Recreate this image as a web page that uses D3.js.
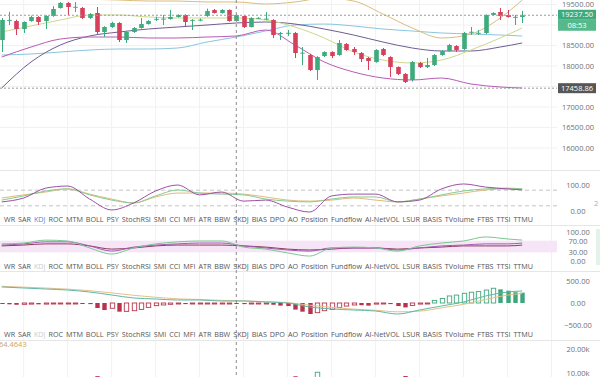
<!DOCTYPE html>
<html>
<head>
<meta charset="utf-8">
<script src="https://cdn.jsdelivr.net/npm/d3@7"></script>
<style>
body { margin: 0; background: #fff; overflow: hidden; }
svg { display: block; font-family: "Open Sans", sans-serif; }
</style>
</head>
<body>
<div id="wrapper"></div>
<script>
// candles: [open, high, low, close]
const candles = [
    [18634, 19170, 18341, 19122], [19110, 19320, 19000, 19125], [19097, 19130, 18756, 18902], [18902, 19090, 18805, 19073],
    [19097, 19230, 19080, 19195], [19195, 19215, 19000, 19073], [19097, 19240, 18902, 19219], [19219, 19460, 19200, 19390],
    [19415, 19560, 19400, 19537], [19537, 19560, 19244, 19439], [19430, 19560, 19317, 19445], [19415, 19440, 19150, 19171],
    [19171, 19290, 19150, 19268], [19293, 19439, 18756, 18829], [18829, 18970, 18710, 18951], [18951, 19080, 18930, 19049],
    [19049, 19070, 18585, 18634], [18634, 18850, 18561, 18829], [18829, 18950, 18810, 18927], [18927, 19171, 18910, 19024],
    [19024, 19120, 19010, 19097], [19140, 19200, 19100, 19150], [19146, 19244, 19000, 19155], [19146, 19366, 19130, 19195],
    [19195, 19260, 19180, 19244], [19244, 19260, 18951, 19073], [19118, 19140, 18878, 19125], [19122, 19160, 19090, 19130],
    [19219, 19400, 19200, 19341], [19366, 19390, 19280, 19293], [19293, 19390, 19280, 19366], [19366, 19380, 19080, 19097],
    [19097, 19260, 19080, 19244], [19219, 19240, 18927, 18951], [18951, 19190, 18940, 19171], [19170, 19190, 19150, 19175],
    [19150, 19317, 19120, 19155], [19122, 19140, 18683, 18756], [18780, 18830, 18634, 18805], [18805, 18878, 18730, 18810],
    [18805, 18830, 18195, 18317], [18317, 18463, 18024, 18325], [18268, 18300, 17880, 17902], [17902, 18240, 17658, 18219],
    [18243, 18360, 18220, 18341], [18341, 18360, 18195, 18243], [18268, 18634, 18250, 18561], [18536, 18560, 18370, 18390],
    [18414, 18463, 18268, 18341], [18317, 18340, 18097, 18170], [18195, 18220, 17902, 18121], [18097, 18410, 18080, 18390],
    [18414, 18440, 18240, 18268], [18219, 18240, 17731, 17975], [17975, 17990, 17780, 17805], [17805, 17830, 17585, 17609],
    [17658, 18120, 17620, 18097], [18073, 18100, 17950, 17975], [17975, 18195, 17950, 18024], [18024, 18290, 18000, 18268],
    [18268, 18390, 18250, 18365], [18365, 18540, 18350, 18512], [18487, 18510, 18341, 18390], [18414, 18830, 18390, 18805],
    [18825, 18951, 18756, 18835], [18805, 18878, 18756, 18810], [18805, 19260, 18780, 19244], [19244, 19310, 19220, 19293],
    [19317, 19415, 19122, 19219], [19244, 19366, 19180, 19195], [19195, 19244, 19000, 19200], [19195, 19341, 19049, 19237.5]
];

// overlay lines on the price pane, sampled at these candle indexes
const lineIdx = [0, 4, 8, 12, 16, 20, 24, 28, 32, 36, 40, 44, 48, 52, 56, 60, 64, 68, 71];
const bollUpper = [19902, 19805, 19707, 19634, 19610, 19585, 19585, 19561, 19561, 19512, 19561, 19659, 19585, 19268, 18927, 18683, 18780, 19171, 19610];
const bollMid = [18829, 18976, 19122, 19244, 19244, 19195, 19171, 19171, 19171, 19122, 18951, 18683, 18341, 18146, 18073, 18146, 18390, 18683, 18927];
const bollLower = [18219, 18463, 18658, 18707, 18707, 18683, 18683, 18707, 18732, 18878, 18512, 18098, 17854, 17707, 17659, 17707, 17561, 17488, 17463];
const maBlue = [18268, 18293, 18341, 18390, 18415, 18415, 18439, 18585, 18707, 18854, 19000, 19024, 18976, 18902, 18854, 18805, 18780, 18756, 18732];
const maDark = [17463, 18098, 18512, 18732, 18829, 18902, 18951, 19000, 19049, 19073, 19024, 18902, 18756, 18585, 18439, 18366, 18366, 18463, 18561];

// oscillators, sampled at these candle indexes
const oscIdx = [0, 3, 6, 9, 12, 15, 18, 21, 24, 27, 30, 33, 36, 39, 42, 45, 48, 51, 54, 57, 60, 63, 66, 69, 71];
const kdjJ = [35, 50, 88, 96, 46, 4, 31, 77, 100, 62, 73, 38, 42, 15, -4, 58, 65, 65, 35, 42, 85, 104, 92, 85, 81];
const kdjK = [42, 58, 77, 85, 62, 42, 31, 58, 81, 69, 65, 62, 46, 38, 35, 46, 54, 54, 35, 46, 62, 77, 85, 88, 85];
const kdjD = [50, 62, 73, 85, 65, 46, 31, 54, 69, 69, 69, 65, 54, 42, 38, 42, 50, 42, 35, 46, 58, 69, 81, 85, 85];
const rsi6 = [59, 62, 72, 69, 45, 24, 45, 59, 66, 69, 69, 48, 41, 28, 17, 45, 48, 45, 34, 52, 62, 69, 83, 76, 72];
const rsi12 = [55, 59, 66, 66, 52, 34, 48, 55, 59, 62, 62, 52, 45, 38, 34, 45, 45, 45, 38, 45, 52, 55, 59, 59, 62];
const rsi24 = [52, 55, 59, 59, 52, 41, 45, 52, 55, 55, 55, 52, 48, 41, 38, 41, 45, 45, 41, 45, 48, 52, 52, 52, 55];
const macdDif = [364, 341, 318, 295, 250, 182, 114, 91, 68, 68, 45, 45, 23, 0, -91, -136, -159, -182, -250, -159, -68, 23, 159, 250, 273];
const macdDea = [380, 360, 340, 315, 280, 230, 175, 130, 95, 80, 60, 50, 30, 10, -50, -100, -140, -165, -200, -185, -110, -30, 80, 180, 215];

// one value per candle
const macdHist = [-20, -30, -40, -30, -25, -30, -25, -15, -10, -8, -5, -15, -25, -114, -160, -120, -197, -190, -175, -145,
    -100, -60, -45, -30, -20, -25, -20, -15, -10, -8, -5, -3, -5, -25, -20, -15, -12, -40, -60, -70,
    -150, -197, -250, -220, -175, -145, -100, -70, -45, -50, -60, -25, -20, -25, -70, -100, -55, -25, -10, 60,
    105, 160, 180, 220, 245, 260, 295, 335, 310, 280, 245, 235];
const volume = [6200, 4100, 5300, 4600, 3900, 4200, 4800, 5600, 6100, 5200, 4700, 5000, 4400, 8700, 6300, 4500, 7400, 5100, 4200, 4600,
    3800, 3500, 3300, 4000, 3700, 4800, 4100, 3600, 3900, 4500, 3800, 3600, 4900, 5400, 4700, 3900, 4200, 6800, 5200, 3900,
    8650, 6100, 7300, 10300, 5600, 4900, 6200, 5300, 4800, 5700, 5900, 6400, 4700, 6600, 7800, 8750, 7600, 5400, 4600, 5300,
    4700, 5100, 4900, 7100, 5200, 4400, 7700, 5600, 6200, 5100, 4300, 3900];

const tabs = ["WR", "SAR", "KDJ", "ROC", "MTM", "BOLL", "PSY", "StochRSI", "SMI", "CCI", "MFI", "ATR", "BBW", "SKDJ",
    "BIAS", "DPO", "AO", "Position", "Fundflow", "AI-NetVOL", "LSUR", "BASIS", "TVolume", "FTBS", "TTSI", "TTMU"];

const priceGrid = [19500, 19000, 18500, 18000, 17500, 17000, 16500, 16000];
const priceTicks = [19500, 18500, 18000, 17000, 16500, 16000];
const kdjTicks = [100, 0];
const rsiTicks = [100, 70, 30, 0];
const macdTicks = [500, 0, -500];
const volTicks = [20000, 10000];
const lastPrice = 19237.5;
const lastTime = "08:53";
const crossIdx = 32;
const crossPrice = 17458.86;
const volLegend = "64.4643";

const W = 600, H = 377, plotW = 557, axisX = 578;
const panes = {
    main: [0, 170], kdj: [170, 225], rsi: [225, 271], macd: [271, 340], vol: [340, 377]
};
const green = "#3eab7d", red = "#d7405a";

const svg = d3.select("#wrapper").append("svg")
    .attr("width", W)
    .attr("height", H);

const x = d3.scaleLinear().domain([0, 71]).range([1.7, 522.2]);
const yMain = d3.scaleLinear().domain([16000, 19500]).range([148, 4.5]);
const yKdj = d3.scaleLinear().domain([0, 100]).range([211, 185]);
const yRsi = d3.scaleLinear().domain([0, 100]).range([261, 232]);
const yMacd = d3.scaleLinear().domain([-500, 500]).range([325, 281]);
const yVol = d3.scaleLinear().domain([10000, 20000]).range([373, 349]);

const defs = svg.append("defs");
function pane(name) {
    const [t, b] = panes[name];
    defs.append("clipPath").attr("id", "clip-" + name)
        .append("rect").attr("x", 0).attr("y", t).attr("width", plotW).attr("height", b - t);
    return svg.append("g").attr("clip-path", `url(#clip-${name})`);
}

// vertical grid
svg.append("g").selectAll("line")
    .data(d3.range(3, 76, 6))
    .join("line")
    .attr("x1", d => x(d)).attr("x2", d => x(d))
    .attr("y1", 0).attr("y2", H)
    .attr("stroke", "#f1f1f1");

// horizontal grid in the price pane
svg.append("g").selectAll("line")
    .data(priceGrid)
    .join("line")
    .attr("x1", 0).attr("x2", plotW)
    .attr("y1", d => yMain(d)).attr("y2", d => yMain(d))
    .attr("stroke", "#f1f1f1");

// pane separators
svg.append("g").selectAll("line")
    .data([panes.kdj[0], panes.rsi[0], panes.macd[0], panes.vol[0]])
    .join("line")
    .attr("x1", 0).attr("x2", W)
    .attr("y1", d => d + 0.5).attr("y2", d => d + 0.5)
    .attr("stroke", "#e6e6e6");

function drawLine(g, idx, vals, yS, color) {
    g.append("path")
        .datum(vals)
        .attr("fill", "none")
        .attr("stroke", color)
        .attr("stroke-width", 1)
        .attr("d", d3.line().x((d, k) => x(idx[k])).y(d => yS(d)).curve(d3.curveMonotoneX));
}

// ---- price pane
const main = pane("main");
drawLine(main, lineIdx, maBlue, yMain, "#8ac6df");
drawLine(main, lineIdx, maDark, yMain, "#6f5d92");
drawLine(main, lineIdx, bollLower, yMain, "#b75bb6");
drawLine(main, lineIdx, bollMid, yMain, "#cdd88c");
drawLine(main, lineIdx, bollUpper, yMain, "#dcbc7d");

const cw = 4.6;
main.selectAll("line.wick")
    .data(candles)
    .join("line")
    .attr("class", "wick")
    .attr("x1", (d, i) => Math.round(x(i)) + 0.5).attr("x2", (d, i) => Math.round(x(i)) + 0.5)
    .attr("y1", d => yMain(d[1])).attr("y2", d => yMain(d[2]))
    .attr("stroke", d => d[3] >= d[0] ? green : red);
main.selectAll("rect.body")
    .data(candles)
    .join("rect")
    .attr("class", "body")
    .attr("x", (d, i) => Math.round(x(i)) + 0.5 - cw / 2)
    .attr("width", cw)
    .attr("y", d => yMain(Math.max(d[0], d[3])))
    .attr("height", d => Math.max(1, Math.abs(yMain(d[0]) - yMain(d[3]))))
    .attr("fill", d => d[3] >= d[0] ? green : red);

// ---- KDJ pane
const kdj = pane("kdj");
kdj.selectAll("line.lvl")
    .data([80, 20])
    .join("line")
    .attr("x1", 0).attr("x2", plotW)
    .attr("y1", d => yKdj(d)).attr("y2", d => yKdj(d))
    .attr("stroke", "#c4c4c4").attr("stroke-dasharray", "4,3");
drawLine(kdj, oscIdx, kdjD, yKdj, "#e2b97c");
drawLine(kdj, oscIdx, kdjK, yKdj, "#84cc8f");
drawLine(kdj, oscIdx, kdjJ, yKdj, "#9f4fa6");

// ---- RSI pane
const rsi = pane("rsi");
rsi.append("rect")
    .attr("x", 0).attr("width", plotW)
    .attr("y", yRsi(70)).attr("height", yRsi(30) - yRsi(70))
    .attr("fill", "#f6e5f6");
drawLine(rsi, oscIdx, rsi24, yRsi, "#8c3a5c");
drawLine(rsi, oscIdx, rsi12, yRsi, "#a35cb0");
drawLine(rsi, oscIdx, rsi6, yRsi, "#78c892");

// ---- MACD pane
const macd = pane("macd");
const bw = 4.4;
macd.selectAll("rect.hist")
    .data(macdHist)
    .join("rect")
    .attr("class", "hist")
    .attr("x", (d, i) => Math.round(x(i)) + 0.5 - bw / 2)
    .attr("width", bw)
    .attr("y", d => yMacd(Math.max(0, d)))
    .attr("height", d => Math.max(1, Math.abs(yMacd(d) - yMacd(0))))
    .each(function (d, i) {
        const prev = i > 0 ? macdHist[i - 1] : 0;
        const col = d >= 0 ? "#3fa67b" : "#b8344d";
        const solid = d < prev;
        d3.select(this)
            .attr("fill", solid ? col : "#fff")
            .attr("stroke", col)
            .attr("stroke-width", solid ? 0 : 0.9);
    });
drawLine(macd, oscIdx, macdDea, yMacd, "#e2c28c");
drawLine(macd, oscIdx, macdDif, yMacd, "#62b7a4");

// ---- volume pane
const vol = pane("vol");
vol.selectAll("rect.vol")
    .data(volume)
    .join("rect")
    .attr("class", "vol")
    .attr("x", (d, i) => Math.round(x(i)) + 0.5 - bw / 2)
    .attr("width", bw)
    .attr("y", d => yVol(d))
    .attr("height", d => yVol(0) - yVol(d))
    .attr("fill", (d, i) => candles[i][3] >= candles[i][0] ? "#fff" : "#c23a52")
    .attr("stroke", (d, i) => candles[i][3] >= candles[i][0] ? "#4bb187" : "none");
svg.append("text")
    .attr("x", -1).attr("y", 347)
    .attr("font-size", 7.5).attr("fill", "#c9a65e")
    .text(volLegend);

// ---- price lines and crosshair
svg.append("line")
    .attr("x1", 0).attr("x2", plotW)
    .attr("y1", yMain(lastPrice)).attr("y2", yMain(lastPrice))
    .attr("stroke", "#9a9a9a").attr("stroke-dasharray", "2,2");
svg.append("line")
    .attr("x1", 0).attr("x2", plotW)
    .attr("y1", yMain(crossPrice)).attr("y2", yMain(crossPrice))
    .attr("stroke", "#9a9a9a").attr("stroke-dasharray", "2,2");
svg.append("line")
    .attr("x1", x(crossIdx)).attr("x2", x(crossIdx))
    .attr("y1", 0).attr("y2", H)
    .attr("stroke", "#8a8a8a").attr("stroke-dasharray", "3,3");

// ---- indicator tabs
[{ y: 222, sel: "#4a8fd6" }, { y: 269, sel: "#cccccc" }, { y: 337, sel: "#cccccc" }].forEach(row => {
    const g = svg.append("g").attr("font-size", 7.2);
    const t = g.selectAll("text")
        .data(tabs)
        .join("text")
        .attr("y", row.y)
        .attr("fill", d => d === "KDJ" ? row.sel : "#555")
        .text(d => d);
    const widths = t.nodes().map(n => n.getComputedTextLength());
    const gap = (533 - 4 - d3.sum(widths)) / (tabs.length - 1);
    let cx = 4;
    t.attr("x", (d, i) => { const v = cx; cx += widths[i] + gap; return v; });
});

// ---- right axes
function rightAxis(scale, ticks, fmt) {
    const g = svg.append("g")
        .attr("transform", `translate(${axisX},0)`)
        .call(d3.axisRight(scale).tickValues(ticks).tickSize(0).tickPadding(0).tickFormat(fmt));
    g.select(".domain").remove();
    g.selectAll("text")
        .attr("text-anchor", "middle")
        .attr("font-family", "Open Sans, sans-serif")
        .attr("font-size", 7.5)
        .attr("fill", "#6f6f6f");
}
rightAxis(yMain, priceTicks, d3.format(".2f"));
rightAxis(yKdj, kdjTicks, d3.format(".2f"));
rightAxis(yRsi, rsiTicks, d3.format(".2f"));
rightAxis(yMacd, macdTicks, d3.format(".2f"));
rightAxis(yVol, volTicks, d => (d / 1000).toFixed(2) + "k");

// ---- axis labels in boxes
function tag(yTop, h, fill, label) {
    svg.append("rect").attr("x", 558).attr("y", yTop).attr("width", 38).attr("height", h).attr("fill", fill);
    svg.append("text")
        .attr("x", 577).attr("y", yTop + h / 2 + 2.7)
        .attr("text-anchor", "middle")
        .attr("font-size", 7.5).attr("fill", "#fff")
        .text(label);
}
const ly = yMain(lastPrice);
tag(ly - 5.5, 10, "#3eab7d", d3.format(".2f")(lastPrice));
tag(ly + 4.5, 11, "#56b98c", lastTime);
tag(yMain(crossPrice) - 5, 10, "#565656", d3.format(".2f")(crossPrice));

svg.append("rect").attr("x", 596).attr("y", 229).attr("width", 4).attr("height", 36).attr("fill", "#e4f2e9");
svg.append("text").attr("x", 594).attr("y", 206).attr("font-size", 7.5).attr("fill", "#aaa").text("2");
</script>
</body>
</html>
